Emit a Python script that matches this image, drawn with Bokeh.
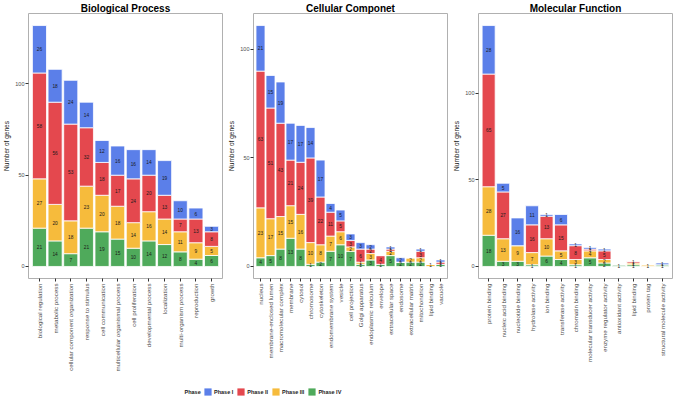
import math
from bokeh.plotting import figure
from bokeh.models import (ColumnDataSource, FactorRange, Range1d, FixedTicker,
                          Legend, LegendItem, Label)
from bokeh.layouts import column, row
from bokeh.embed import file_html
from bokeh.resources import INLINE
from bokeh.core.properties import value

# ---------------- data ----------------
phase_names = ["Phase I", "Phase II", "Phase III", "Phase IV"]
phase_colors = ["#5B7FE9", "#E4484E", "#F6BB3C", "#4FAA5B"]

bp_categories = ["biological regulation", "metabolic process", "cellular component organization",
                 "response to stimulus", "cell communication", "multicellular organismal process",
                 "cell proliferation", "developmental process", "localization",
                 "multi-organism process", "reproduction", "growth"]
bp_phase1 = [26, 18, 24, 14, 12, 16, 16, 14, 19, 10, 6, 3]
bp_phase2 = [58, 56, 53, 32, 18, 17, 24, 20, 13, 7, 13, 8]
bp_phase3 = [27, 20, 18, 23, 20, 18, 14, 16, 14, 11, 9, 5]
bp_phase4 = [21, 14, 7, 21, 19, 15, 10, 14, 12, 8, 4, 6]

cc_categories = ["nucleus", "membrane-enclosed lumen", "macromolecular complex", "membrane",
                 "cytosol", "chromosome", "cytoskeleton", "endomembrane system", "vesicle",
                 "cell projection", "Golgi apparatus", "endoplasmic reticulum", "envelope",
                 "extracellular space", "endosome", "extracellular matrix", "mitochondrion",
                 "lipid binding", "vacuole"]
cc_phase1 = [21, 15, 19, 17, 17, 14, 17, 4, 5, 3, 3, 2, 0, 1, 2, 0, 1, 0, 1]
cc_phase2 = [63, 51, 43, 21, 24, 39, 22, 11, 5, 3, 6, 2, 4, 1, 0, 0, 3, 0, 1]
cc_phase3 = [23, 17, 15, 15, 16, 10, 8, 7, 6, 2, 1, 3, 0, 2, 0, 2, 2, 1, 0]
cc_phase4 = [4, 5, 8, 13, 8, 1, 2, 7, 10, 7, 1, 3, 1, 5, 2, 2, 2, 0, 1]

mf_categories = ["protein binding", "nucleic acid binding", "nucleotide binding",
                 "hydrolase activity", "ion binding", "transferase activity",
                 "chromatin binding", "molecular transducer activity",
                 "enzyme regulator activity", "antioxidant activity", "lipid binding",
                 "protein tag", "structural molecule activity"]
mf_phase1 = [28, 5, 16, 11, 1, 6, 1, 1, 1, 0, 0, 0, 1]
mf_phase2 = [65, 27, 0, 16, 13, 15, 8, 1, 5, 0, 1, 0, 0]
mf_phase3 = [28, 13, 9, 7, 10, 5, 3, 4, 2, 0, 1, 1, 0]
mf_phase4 = [18, 3, 3, 1, 6, 4, 1, 5, 2, 1, 1, 0, 1]

FONT = "Liberation Sans"
PANEL_H = 374
PANEL_W = 225


def make_panel(title, cats, p1, p2, p3, p4, width):
    totals = [a + b + c + d for a, b, c, d in zip(p1, p2, p3, p4)]
    ymax = max(totals)
    pad = 0.05 * ymax
    p = figure(x_range=FactorRange(*cats, range_padding=0.2, range_padding_units="absolute"),
               y_range=Range1d(-pad, ymax + pad),
               width=width, height=PANEL_H, output_backend="svg", toolbar_location=None,
               title=title, min_border_left=1, min_border_right=3,
               min_border_top=0, min_border_bottom=0)
    src = ColumnDataSource(dict(cat=cats, p4=p4, p3=p3, p2=p2, p1=p1))
    p.vbar_stack(["p4", "p3", "p2", "p1"], x="cat", width=0.9, source=src,
                 fill_color=[phase_colors[3], phase_colors[2], phase_colors[1], phase_colors[0]],
                 line_color="white", line_width=0.8)
    xs, ys, ts = [], [], []
    for i, c in enumerate(cats):
        base = 0
        for v in (p4[i], p3[i], p2[i], p1[i]):
            if v > 0:
                xs.append(c)
                ys.append(base + v / 2)
                ts.append(str(v))
            base += v
    p.text(x=xs, y=ys, text=ts, text_font=value(FONT), text_font_size="4.8px",
           text_align="center", text_baseline="middle", text_color="#1a1a1a")

    p.title.text_font = FONT
    p.title.text_font_size = "10px"
    p.title.text_font_style = "bold"
    p.title.align = "center"
    p.title.text_color = "#000000"
    p.title.standoff = 0

    p.xgrid.visible = False
    p.ygrid.visible = False
    p.outline_line_color = "#B0B0B0"
    p.outline_line_width = 1

    for ax in (p.xaxis[0], p.yaxis[0]):
        ax.axis_line_color = None
        ax.major_tick_line_color = "#333333"
        ax.major_tick_in = 0
        ax.major_tick_out = 3
        ax.minor_tick_line_color = None
        ax.major_label_text_font = FONT
        ax.major_label_text_color = "#4D4D4D"

    p.yaxis.ticker = FixedTicker(ticks=[0, 50, 100])
    p.yaxis.major_label_text_font_size = "5.5px"
    p.yaxis.major_label_standoff = 1
    p.yaxis.axis_label = "Number of genes"
    p.yaxis.axis_label_text_font = FONT
    p.yaxis.axis_label_text_font_size = "6.5px"
    p.yaxis.axis_label_text_font_style = "normal"
    p.yaxis.axis_label_text_color = "#1a1a1a"
    p.yaxis.axis_label_standoff = 2

    p.xaxis.major_label_orientation = math.pi / 2
    p.xaxis.major_label_text_font_size = "6.2px"
    p.xaxis.major_label_standoff = 2
    return p


p_bp = make_panel("Biological Process", bp_categories, bp_phase1, bp_phase2, bp_phase3, bp_phase4, PANEL_W)
p_cc = make_panel("Cellular Componet", cc_categories, cc_phase1, cc_phase2, cc_phase3, cc_phase4, PANEL_W)
p_mf = make_panel("Molecular Function", mf_categories, mf_phase1, mf_phase2, mf_phase3, mf_phase4, PANEL_W)

# ---------------- legend ----------------
LEG_H = 26
lf = figure(width=3 * PANEL_W, height=LEG_H, output_backend="svg", toolbar_location=None,
            x_range=Range1d(0, 1), y_range=Range1d(0, 1),
            x_axis_type=None, y_axis_type=None, min_border=0)
lf.grid.visible = False
lf.outline_line_color = None
items = []
for name, col in zip(phase_names, phase_colors):
    r = lf.vbar(x=[-10], top=[-10], bottom=[-11], width=0.5, fill_color=col, line_color=None)
    items.append(LegendItem(label=name, renderers=[r]))
leg = Legend(items=items, orientation="horizontal", location=(203, 4),
             glyph_width=9, glyph_height=9, label_height=9, label_width=10,
             label_standoff=2, spacing=3, padding=0, margin=0,
             border_line_color=None, background_fill_alpha=0,
             label_text_font=FONT, label_text_font_size="5.5px",
             label_text_font_style="bold", label_text_color="#1a1a1a")
lf.add_layout(leg)
lf.add_layout(Label(x=184, y=8.5, x_units="screen", y_units="screen", text="Phase",
                    text_font=FONT, text_font_size="5.5px", text_font_style="bold",
                    text_baseline="middle", text_color="#1a1a1a"))

layout = column(row(p_bp, p_cc, p_mf), lf)
open("out.html", "w").write(file_html(layout, INLINE))
